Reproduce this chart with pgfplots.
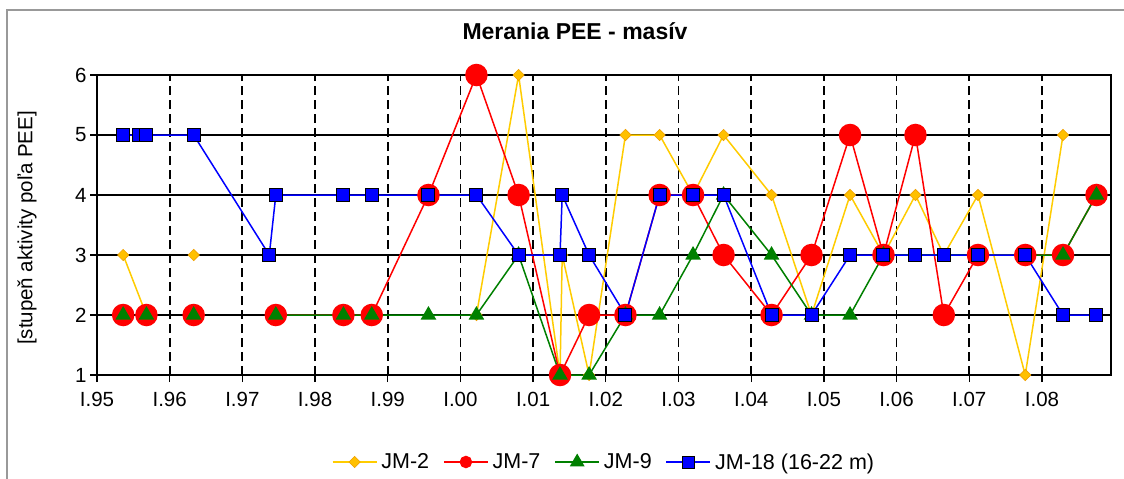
\documentclass[border=0pt]{standalone}
\usepackage{pgfplots}
\pgfplotsset{compat=1.18}
\usepackage{fontspec}
\setmainfont{Liberation Sans}
\definecolor{jmyellow}{RGB}{255,204,0}
\definecolor{jmyelfill}{RGB}{255,192,0}
\definecolor{jmyeledge}{RGB}{240,160,0}
\definecolor{jmred}{RGB}{255,0,0}
\definecolor{jmgreen}{RGB}{0,128,0}
\definecolor{jmblue}{RGB}{0,0,255}
\begin{document}
\begin{tikzpicture}
\path[use as bounding box] (0pt,0pt) rectangle (1124pt,-479pt);
\fill[white] (0pt,0pt) rectangle (1124pt,-479pt);
\draw[black!40, line width=1.5pt] (7pt,-479pt) -- (7pt,-10pt) -- (1124pt,-10pt);
\begin{axis}[
  at={(97pt,-375pt)}, anchor=south west,
  scale only axis, width=1014pt, height=300pt,
  xmin=1995, xmax=2008.95, ymin=1, ymax=6,
  xtick={1995,1996,1997,1998,1999,2000,2001,2002,2003,2004,2005,2006,2007,2008},
  xticklabels={I.95,I.96,I.97,I.98,I.99,I.00,I.01,I.02,I.03,I.04,I.05,I.06,I.07,I.08},
  ytick={1,2,3,4,5,6},
  /pgf/number format/assume math mode=true,
  tick label style={font=\fontsize{20.5}{24}\selectfont, black},
  xticklabel style={yshift=-7pt},
  tick align=outside, tick pos=left,
  major tick length=7pt,
  tick style={black, line width=1.3pt},
  axis line style={black, line width=1.5pt},
  grid=major,
  x grid style={black, line width=1.8pt, dash pattern=on 9pt off 5pt},
  y grid style={black, line width=1.4pt},
  clip=false,
  unbounded coords=jump,
  title={Merania PEE - masív},
  title style={at={(axis description cs:0.4714,1.125)}, anchor=center, font=\bfseries\fontsize{23}{27}\selectfont},
  ylabel={[stupeň aktivity poľa PEE]},
  ylabel style={at={(axis description cs:-0.069,0.49)}, anchor=center, font=\fontsize{20.5}{24}\selectfont},
  legend style={at={(0.5,-0.29)}, anchor=center, draw=none, font=\fontsize{21.5}{25}\selectfont,
    /tikz/every even column/.append style={column sep=12pt},
    /tikz/every odd column/.append style={column sep=2pt}},
  legend columns=4,
  legend image code/.code={\draw[mark repeat=2, mark phase=2] plot coordinates {(0pt,0pt) (22pt,0pt) (44pt,0pt)};},
]
% JM-2
\addplot[forget plot, jmyellow, line width=1.5pt, mark=square*, mark size=4pt,
  mark options={rotate=45, fill=jmyelfill, draw=jmyeledge, line width=0.6pt}] coordinates {
(1995.36,3)(1995.68,2)(1995.9,nan)(1996.33,3)(1996.5,nan)(2000.22,2)(2000.80,6)(2001.37,1)(2001.40,3)(2001.77,1)(2002.27,5)(2002.74,5)(2003.20,4)(2003.62,5)(2004.28,4)(2004.83,2)(2005.36,4)(2005.82,3)(2006.26,4)(2006.65,3)(2007.12,4)(2007.77,1)(2008.29,5)
};
% JM-7
\addplot[forget plot, jmred, line width=1.5pt, mark=*, mark size=10.5pt,
  mark options={fill=jmred, draw=jmred}] coordinates {
(1995.36,2)(1995.5,nan)(1995.68,2)(1996,nan)(1996.33,2)(1997,nan)(1997.46,2)(1998.39,2)(1998.78,2)(1999.56,4)(2000.22,6)(2000.80,4)(2001.37,1)(2001.77,2)(2002.27,2)(2002.74,4)(2003.20,4)(2003.62,3)(2004.28,2)(2004.83,3)(2005.36,5)(2005.82,3)(2006.26,5)(2006.65,2)(2007.12,3)(2007.77,3)(2008.29,3)(2008.75,4)
};
% JM-9
\addplot[forget plot, jmgreen, line width=1.5pt, mark=triangle*, mark size=7.5pt,
  mark options={fill=jmgreen, draw=jmgreen}] coordinates {
(1995.36,2)(1995.5,nan)(1995.68,2)(1996,nan)(1996.33,2)(1997,nan)(1997.46,2)(1998.39,2)(1998.78,2)(1999.56,2)(2000.22,2)(2000.80,3)(2001.37,1)(2001.77,1)(2002.27,2)(2002.74,2)(2003.20,3)(2003.62,4)(2004.28,3)(2004.83,2)(2005.36,2)(2005.82,3)(2008.29,3)(2008.75,4)
};
% JM-18
\addplot[forget plot, jmblue, line width=1.5pt, mark=square*, mark size=6.5pt,
  mark options={fill=jmblue, draw=black, line width=1pt}] coordinates {
(1995.36,5)(1995.58,5)(1995.68,5)(1996.33,5)(1997.37,3)(1997.46,4)(1998.39,4)(1998.78,4)(1999.56,4)(2000.22,4)(2000.80,3)(2001.37,3)(2001.40,4)(2001.77,3)(2002.27,2)(2002.74,4)(2003.20,4)(2003.62,4)(2004.28,2)(2004.83,2)(2005.36,3)(2005.82,3)(2006.26,3)(2006.65,3)(2007.12,3)(2007.77,3)(2008.29,2)(2008.75,2)
};
\addlegendimage{jmyellow, line width=1.5pt, mark=square*, mark size=4pt, mark options={rotate=45, fill=jmyelfill, draw=jmyeledge, line width=0.6pt}}
\addlegendentry{JM-2}
\addlegendimage{jmred, line width=1.5pt, mark=*, mark size=5.5pt, mark options={fill=jmred, draw=jmred}}
\addlegendentry{JM-7}
\addlegendimage{jmgreen, line width=1.5pt, mark=triangle*, mark size=7pt, mark options={fill=jmgreen, draw=jmgreen}}
\addlegendentry{JM-9}
\addlegendimage{jmblue, line width=1.5pt, mark=square*, mark size=6pt, mark options={fill=jmblue, draw=black, line width=1pt}}
\addlegendentry{JM-18 (16-22 m)}
\end{axis}
\end{tikzpicture}
\end{document}
